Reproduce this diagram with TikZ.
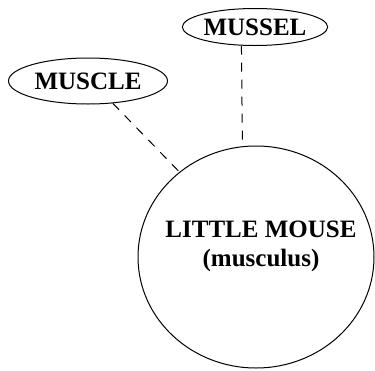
\documentclass[tikz,border=0pt]{standalone}
\usepackage{fontspec}
\setmainfont{Liberation Serif}
\usepackage{tikz}
\usetikzlibrary{shapes.geometric}
\usetikzlibrary{positioning}

\tikzset{word/.style={draw,ellipse,line width=1pt,inner sep=0pt,font=\fontsize{25}{29}\selectfont\bfseries},
link/.style={line width=1pt,dash pattern=on 9pt off 8pt}}

\begin{document}
\begin{tikzpicture}[x=1pt,y=-1pt]
%\draw[help lines] (0,0) grid (375,370);
\useasboundingbox (0,0) rectangle (375,370);

\node[word,minimum width=236pt,minimum height=222pt] (mouse) at (256,257) {};
\node[font=\fontsize{25}{29}\selectfont\bfseries,align=center] (mousetext) at (261,246) {LITTLE MOUSE\\(musculus)};

\node[word,minimum width=144pt,minimum height=37pt] (mussel) at (255,27) {MUSSEL};
\node[word,minimum width=159pt,minimum height=46pt] (muscle) at (88,81) {MUSCLE};

\draw[link] (mussel.234) -- (mouse.97);
\draw[link] (muscle.318) -- (mouse.132);

\end{tikzpicture}
\end{document}
